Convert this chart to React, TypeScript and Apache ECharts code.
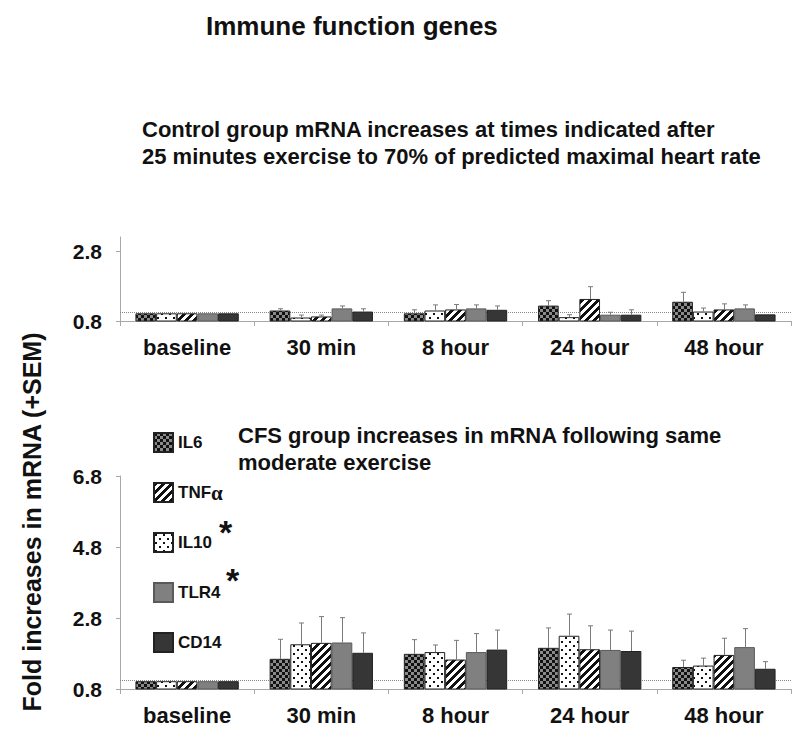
import React, { useEffect, useRef } from "react";
import * as echarts from "echarts";

const categories = ["baseline", "30 min", "8 hour", "24 hour", "48 hour"];
const barOrder = ["IL6", "IL10", "TNFα", "TLR4", "CD14"];
const legendOrder = ["IL6", "TNFα", "IL10", "TLR4", "CD14"];
const topTicks = [0.8, 2.8];
const bottomTicks = [0.8, 2.8, 4.8, 6.8];
const refLine = 1.05;

// Control group (mean, mean+SEM)
const ctrlIL6 = [1.02, 1.1, 1.02, 1.24, 1.35];
const ctrlIL6Err = [1.02, 1.15, 1.12, 1.38, 1.62];
const ctrlIL10 = [1.02, 0.9, 1.1, 0.91, 1.07];
const ctrlIL10Err = [1.02, 0.97, 1.26, 0.98, 1.17];
const ctrlTNF = [1.02, 0.93, 1.13, 1.43, 1.13];
const ctrlTNFErr = [1.02, 0.97, 1.27, 1.78, 1.29];
const ctrlTLR4 = [1.02, 1.16, 1.16, 0.98, 1.16];
const ctrlTLR4Err = [1.02, 1.23, 1.26, 1.05, 1.26];
const ctrlCD14 = [1.02, 1.07, 1.12, 0.98, 0.99];
const ctrlCD14Err = [1.02, 1.15, 1.23, 1.12, 0.99];

// CFS group (mean, mean+SEM)
const cfsIL6 = [1.02, 1.65, 1.79, 1.96, 1.42];
const cfsIL6Err = [1.02, 2.2, 2.19, 2.52, 1.61];
const cfsIL10 = [1.02, 2.06, 1.84, 2.3, 1.46];
const cfsIL10Err = [1.02, 2.66, 2.04, 2.91, 1.67];
const cfsTNF = [1.02, 2.1, 1.63, 1.92, 1.76];
const cfsTNFErr = [1.02, 2.84, 2.17, 2.58, 2.23];
const cfsTLR4 = [1.02, 2.11, 1.84, 1.9, 1.98];
const cfsTLR4Err = [1.02, 2.81, 2.36, 2.46, 2.5];
const cfsCD14 = [1.02, 1.82, 1.91, 1.87, 1.37];
const cfsCD14Err = [1.02, 2.38, 2.46, 2.43, 1.57];

const ctrlMeans = [ctrlIL6, ctrlIL10, ctrlTNF, ctrlTLR4, ctrlCD14];
const ctrlErrs = [ctrlIL6Err, ctrlIL10Err, ctrlTNFErr, ctrlTLR4Err, ctrlCD14Err];
const cfsMeans = [cfsIL6, cfsIL10, cfsTNF, cfsTLR4, cfsCD14];
const cfsErrs = [cfsIL6Err, cfsIL10Err, cfsTNFErr, cfsTLR4Err, cfsCD14Err];

const FONT = "'Liberation Sans', Arial, Helvetica, sans-serif";
const CAT_GAP = 0.23;

function makeTile(w: number, h: number, draw: (ctx: CanvasRenderingContext2D) => void) {
  const c = document.createElement("canvas");
  c.width = w;
  c.height = h;
  const ctx = c.getContext("2d")!;
  draw(ctx);
  return { image: c.toDataURL(), repeat: "repeat", imageWidth: w, imageHeight: h };
}

function buildFills() {
  const checker = makeTile(6, 6, (ctx) => {
    ctx.fillStyle = "#8a8a8a";
    ctx.fillRect(0, 0, 6, 6);
    ctx.fillStyle = "#111";
    ctx.fillRect(0, 0, 3, 3);
    ctx.fillRect(3, 3, 3, 3);
  });
  const dots = makeTile(8, 8, (ctx) => {
    ctx.fillStyle = "#fff";
    ctx.fillRect(0, 0, 8, 8);
    ctx.fillStyle = "#111";
    ctx.fillRect(1, 1, 2, 2);
    ctx.fillRect(5, 5, 2, 2);
  });
  const stripes = makeTile(8, 8, (ctx) => {
    const img = ctx.createImageData(8, 8);
    for (let y = 0; y < 8; y++) {
      for (let x = 0; x < 8; x++) {
        const k = (x + y) % 8;
        const v = k < 4 ? 17 : 255;
        const i = (y * 8 + x) * 4;
        img.data[i] = v;
        img.data[i + 1] = v;
        img.data[i + 2] = v;
        img.data[i + 3] = 255;
      }
    }
    ctx.putImageData(img, 0, 0);
  });
  return {
    IL6: { color: checker, borderColor: "#222", borderWidth: 1 },
    IL10: { color: dots, borderColor: "#222", borderWidth: 1 },
    "TNFα": { color: stripes, borderColor: "#222", borderWidth: 1 },
    TLR4: { color: "#808080", borderColor: "#5a5a5a", borderWidth: 1 },
    CD14: { color: "#363636", borderColor: "#222", borderWidth: 1 },
  } as Record<string, any>;
}

export default function App() {
  const ref = useRef<HTMLDivElement>(null);

  useEffect(() => {
    if (!ref.current) return;
    const chart = echarts.init(ref.current, undefined, { renderer: "svg" });
    const fills = buildFills();

    const grids = [
      { left: 120, top: 237, width: 671, height: 84 },
      { left: 120, top: 476, width: 671, height: 213 },
    ];

    const xAxes = grids.map((_, g) => ({
      type: "category",
      gridIndex: g,
      data: categories,
      axisLine: { show: true, onZero: false, lineStyle: { color: "#a8a8a8", width: 1 } },
      axisTick: { show: true, length: 5, alignWithLabel: false, lineStyle: { color: "#a8a8a8" } },
      axisLabel: {
        interval: 0,
        margin: 15,
        color: "#111",
        fontSize: 22,
        fontWeight: "bold",
        fontFamily: FONT,
      },
    }));

    const yAxes = grids.map((_, g) => ({
      type: "value",
      gridIndex: g,
      min: 0.8,
      max: g === 0 ? 3.2 : 6.8,
      splitLine: { show: false },
      axisLine: { show: true, lineStyle: { color: "#a8a8a8", width: 1 } },
      axisTick: {
        show: true,
        length: 4,
        customValues: g === 0 ? topTicks : bottomTicks,
        lineStyle: { color: "#a8a8a8" },
      },
      axisLabel: {
        customValues: g === 0 ? topTicks : bottomTicks,
        margin: 18,
        color: "#111",
        fontSize: 21,
        fontWeight: "bold",
        fontFamily: FONT,
        formatter: (v: number) => v.toFixed(1),
      },
    }));

    const series: any[] = [];
    [ctrlMeans, cfsMeans].forEach((means, g) => {
      barOrder.forEach((name, si) => {
        const s: any = {
          type: "bar",
          name,
          xAxisIndex: g,
          yAxisIndex: g,
          data: means[si],
          barGap: "0%",
          barCategoryGap: CAT_GAP * 100 + "%",
          itemStyle: fills[name],
          emphasis: { disabled: true },
          z: 3,
        };
        if (si === 0) {
          s.markLine = {
            silent: true,
            symbol: "none",
            z: 1,
            label: { show: false },
            lineStyle: { type: "dotted", color: "#888", width: 1 },
            data: [{ yAxis: refLine }],
          };
        }
        series.push(s);
      });
    });

    [[ctrlMeans, ctrlErrs], [cfsMeans, cfsErrs]].forEach(([means, errs], g) => {
      const data: number[][] = [];
      categories.forEach((_, c) => {
        barOrder.forEach((__, si) => {
          data.push([c, si, means[si][c], errs[si][c]]);
        });
      });
      series.push({
        type: "custom",
        name: "err" + g,
        xAxisIndex: g,
        yAxisIndex: g,
        z: 4,
        silent: true,
        encode: { x: 0, y: 3 },
        data,
        renderItem: (params: any, api: any) => {
          const c = api.value(0);
          const si = api.value(1);
          const v = api.value(2);
          const e = api.value(3);
          if (!(e > v + 0.005)) return null;
          const p0 = api.coord([c, v]);
          const p1 = api.coord([c, e]);
          const band = api.size([1, 0])[0];
          const groupW = band * (1 - CAT_GAP);
          const bw = groupW / barOrder.length;
          const x = Math.round(p0[0] - groupW / 2 + bw * (si + 0.5)) + 0.5;
          const style = { stroke: "#7a7a7a", lineWidth: 1 };
          return {
            type: "group",
            children: [
              { type: "line", shape: { x1: x, y1: p0[1], x2: x, y2: p1[1] }, style },
              { type: "line", shape: { x1: x - 2.5, y1: p1[1], x2: x + 2.5, y2: p1[1] }, style },
            ],
          };
        },
      });
    });

    const option: any = {
      animation: false,
      textStyle: { fontFamily: FONT },
      title: [
        {
          text: "Immune function genes",
          left: 206,
          top: 13,
          padding: 0,
          textStyle: { fontSize: 26, fontWeight: "bold", color: "#111", fontFamily: FONT, lineHeight: 26 },
        },
        {
          text: "Control group mRNA increases at times indicated after\n25 minutes exercise to 70% of predicted maximal heart rate",
          left: 142,
          top: 116,
          padding: 0,
          textStyle: { fontSize: 22, fontWeight: "bold", color: "#111", fontFamily: FONT, lineHeight: 27 },
        },
        {
          text: "CFS group increases in mRNA following same\nmoderate exercise",
          left: 238,
          top: 422,
          padding: 0,
          textStyle: { fontSize: 22, fontWeight: "bold", color: "#111", fontFamily: FONT, lineHeight: 27 },
        },
      ],
      legend: {
        data: legendOrder,
        orient: "vertical",
        left: 153,
        top: 432,
        padding: 0,
        itemWidth: 19,
        itemHeight: 19,
        itemGap: 29,
        icon: "rect",
        selectedMode: false,
        formatter: (name: string) => (name === "TNFα" ? "TNF{g|α}" : name),
        textStyle: {
          fontSize: 17,
          fontWeight: "bold",
          color: "#111",
          fontFamily: FONT,
          lineHeight: 19,
          rich: {
            g: { fontSize: 21, fontFamily: "'Liberation Serif', 'Times New Roman', serif", fontWeight: "bold", color: "#111" },
          },
        },
      },
      grid: grids,
      xAxis: xAxes,
      yAxis: yAxes,
      series,
      graphic: [
        {
          type: "text",
          x: 32,
          y: 522,
          rotation: Math.PI / 2,
          style: {
            text: "Fold increases in mRNA (+SEM)",
            align: "center",
            verticalAlign: "middle",
            fill: "#111",
            fontSize: 25,
            fontWeight: "bold",
            fontFamily: FONT,
          },
        },
        {
          type: "text",
          x: 225.5,
          y: 532,
          style: { text: "*", align: "center", verticalAlign: "middle", fill: "#111", fontSize: 34, fontWeight: "bold", fontFamily: FONT },
        },
        {
          type: "text",
          x: 232.5,
          y: 580,
          style: { text: "*", align: "center", verticalAlign: "middle", fill: "#111", fontSize: 34, fontWeight: "bold", fontFamily: FONT },
        },
      ],
    };

    chart.setOption(option);
    return () => chart.dispose();
  }, []);

  return (
    <div
      ref={ref}
      style={{ position: "fixed", left: 0, top: 0, width: 800, height: 742, background: "#fff" }}
    />
  );
}
